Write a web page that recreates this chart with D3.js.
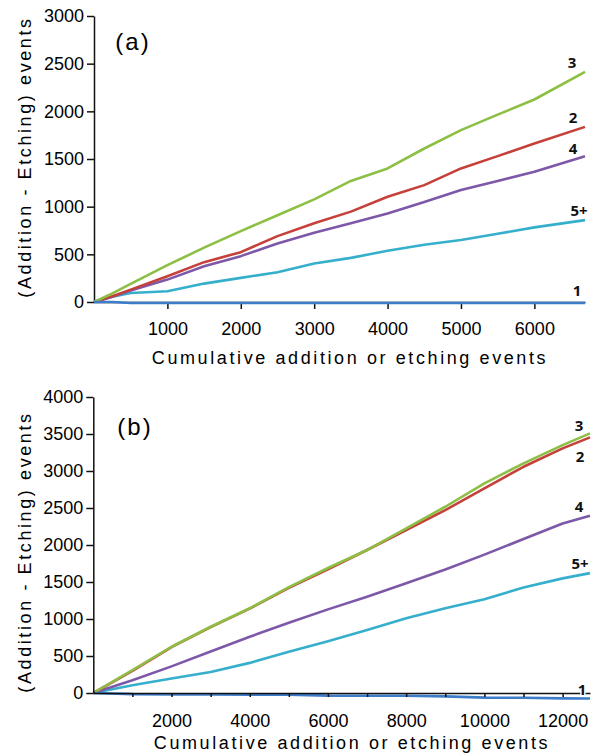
<!DOCTYPE html>
<html>
<head>
<meta charset="utf-8">
<script src="https://cdn.jsdelivr.net/npm/d3@7"></script>
<style>
  html, body { margin: 0; padding: 0; background: #fff; }
  svg { display: block; }
  .tick text { font-family: "Liberation Sans", Arial, sans-serif; font-size: 18px; fill: #000; }
  .tick line, .domain { stroke: #111; stroke-width: 1.5; }
  .title { font-family: "Liberation Sans", Arial, sans-serif; font-size: 18px; fill: #000; letter-spacing: 2.6px; }
  .plabel { font-family: "Liberation Sans", Arial, sans-serif; font-size: 24px; fill: #000; letter-spacing: 2px; }
  .slabel { font-family: "Open Sans", "Liberation Sans", sans-serif; font-size: 15px; font-weight: 700; fill: #111; }
</style>
</head>
<body>
<svg id="chart" width="595" height="755"></svg>
<script>
// ---------- data ----------
const seriesNames = ["1", "2", "3", "4", "5+"];

// Panel (a)
const xA = [0, 250, 500, 1000, 1500, 2000, 2500, 3000, 3500, 4000, 4500, 5000, 5500, 6000, 6690];
const a1 = [0, 0, -10, -10, -10, -10, -10, -10, -10, -10, -10, -10, -10, -10, -10];
const a2 = [0, 60, 130, 270, 418, 523, 691, 825, 948, 1104, 1226, 1401, 1530, 1663, 1837];
const a3 = [0, 90, 190, 386, 570, 744, 910, 1077, 1270, 1401, 1610, 1803, 1965, 2124, 2414];
const a4 = [0, 55, 120, 235, 375, 481, 614, 726, 825, 929, 1050, 1174, 1270, 1366, 1530];
const a5 = [0, 55, 95, 112, 193, 253, 312, 403, 463, 538, 600, 650, 715, 783, 859];
const yTicksA = [0, 500, 1000, 1500, 2000, 2500, 3000];
const xTicksA = [1000, 2000, 3000, 4000, 5000, 6000];

// Panel (b)
const xB = [0, 1000, 2000, 3000, 4000, 5000, 6000, 7000, 8000, 9000, 10000, 11000, 12000, 12700];
const b1 = [0, -15, -18, -20, -22, -22, -36, -38, -38, -45, -62, -65, -72, -75];
const b2 = [0, 300, 620, 890, 1140, 1420, 1670, 1932, 2203, 2472, 2765, 3057, 3306, 3454];
const b3 = [0, 308, 625, 895, 1145, 1430, 1689, 1932, 2225, 2517, 2833, 3103, 3350, 3508];
const b4 = [0, 172, 360, 560, 760, 950, 1130, 1301, 1482, 1670, 1870, 2080, 2290, 2395];
const b5 = [0, 104, 195, 285, 407, 557, 700, 851, 1009, 1144, 1266, 1425, 1549, 1620];
const yTicksB = [0, 500, 1000, 1500, 2000, 2500, 3000, 3500, 4000];
const xTicksB = [1000, 2000, 3000, 4000, 5000, 6000, 7000, 8000, 9000, 10000, 11000, 12000];
const xLabelsB = [2000, 4000, 6000, 8000, 10000, 12000];

const xTitle = "Cumulative addition or etching events";
const yTitle = "(Addition - Etching) events";

// ---------- styles ----------
const colors = { "1": "#3d7cc9", "2": "#c6403a", "3": "#8dbf45", "4": "#7d58a8", "5+": "#36afcc" };
const drawOrder = ["5+", "4", "2", "3", "1"];

const svg = d3.select("#chart");

function panel(cfg) {
  const x = d3.scaleLinear().domain(cfg.xDomain).range(cfg.xRange);
  const y = d3.scaleLinear().domain(cfg.yDomain).range(cfg.yRange);
  const g = svg.append("g");

  const series = { "1": cfg.s[0], "2": cfg.s[1], "3": cfg.s[2], "4": cfg.s[3], "5+": cfg.s[4] };
  const line = d3.line().x((d, i) => x(cfg.xs[i])).y(d => y(d));

  const axG = g.append("g");
  const linesG = g.append("g");
  if (cfg.axisOnTop) axG.raise();

  axG.append("g")
    .attr("transform", `translate(${cfg.xRange[0]},0)`)
    .call(d3.axisLeft(y).tickValues(cfg.yTicks).tickSize(7).tickPadding(3).tickSizeOuter(0).tickFormat(d3.format("d")));
  axG.append("g")
    .attr("transform", `translate(0,${cfg.yRange[0]})`)
    .call(d3.axisBottom(x).tickValues(cfg.xTicks).tickSize(cfg.xTickSize).tickPadding(cfg.xTickPad).tickSizeOuter(0)
      .tickFormat(d => cfg.xLabels.includes(d) ? d3.format("d")(d) : ""));

  drawOrder.forEach(k => {
    linesG.append("path")
      .attr("d", line(series[k]))
      .attr("fill", "none")
      .attr("stroke", colors[k])
      .attr("stroke-width", 2.6)
      .attr("stroke-linejoin", "round");
  });

  const n = cfg.xs.length - 1;
  seriesNames.forEach(k => {
    const off = cfg.labelOff[k];
    g.append("text").attr("class", "slabel")
      .attr("x", x(cfg.xs[n]) + off[0])
      .attr("y", y(series[k][n]) + off[1])
      .attr("text-anchor", "middle")
      .attr("dy", "0.35em")
      .attr("paint-order", "stroke")
      .attr("stroke", "#fff").attr("stroke-width", 3)
      .text(k);
  });

  g.append("text").attr("class", "plabel")
    .attr("x", cfg.pl[0]).attr("y", cfg.pl[1]).attr("dy", "0.35em")
    .attr("text-anchor", "middle").text(cfg.plText);

  g.append("text").attr("class", "title")
    .attr("x", cfg.xt[0]).attr("y", cfg.xt[1]).attr("dy", "0.35em")
    .attr("text-anchor", "middle").text(xTitle);
  g.append("text").attr("class", "title")
    .attr("transform", `translate(${cfg.yt[0]},${cfg.yt[1]}) rotate(-90)`)
    .attr("dy", "0.35em").attr("text-anchor", "middle").text(yTitle);
}

panel({
  xs: xA, s: [a1, a2, a3, a4, a5],
  xDomain: [0, 6690], xRange: [94, 585],
  yDomain: [0, 3000], yRange: [302, 16],
  yTicks: yTicksA, xTicks: xTicksA, xLabels: xTicksA,
  xTickSize: 7, xTickPad: 13, axisOnTop: false,
  labelOff: { "1": [-8, -12], "2": [-12, -9], "3": [-13, -9], "4": [-12, -7], "5+": [-6, -9] },
  pl: [133, 42], plText: "(a)",
  xt: [350, 358], yt: [25, 157]
});

panel({
  xs: xB, s: [b1, b2, b3, b4, b5],
  xDomain: [0, 12700], xRange: [93.3, 590],
  yDomain: [0, 4000], yRange: [693, 397],
  yTicks: yTicksB, xTicks: xTicksB, xLabels: xLabelsB,
  xTickSize: 4, xTickPad: 17, axisOnTop: true,
  labelOff: { "1": [-8, -9], "2": [-10, 19], "3": [-11, -8], "4": [-11, -9], "5+": [-10, -9] },
  pl: [135, 427], plText: "(b)",
  xt: [352, 743], yt: [25, 552]
});
</script>
</body>
</html>
